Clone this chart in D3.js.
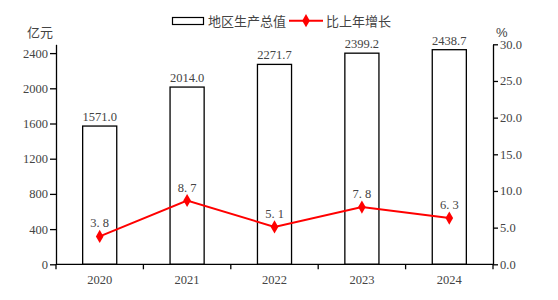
<!DOCTYPE html>
<html>
<head>
<meta charset="utf-8">
<script src="https://cdn.jsdelivr.net/npm/d3@7"></script>
<style>
  body { margin: 0; background: #fff; }
  text { font-family: "Liberation Serif", "Noto Sans CJK SC", serif; fill: #444; }
  .cjk { font-family: "Noto Sans CJK SC", sans-serif; }
</style>
</head>
<body>
<div id="chart"></div>
<script>
// chart data
const years = ["2020", "2021", "2022", "2023", "2024"]
const gdp = [1571.0, 2014.0, 2271.7, 2399.2, 2438.7]
const growth = [3.8, 8.7, 5.1, 7.8, 6.3]
const leftTicks = [0, 400, 800, 1200, 1600, 2000, 2400]
const rightTicks = [0, 5, 10, 15, 20, 25, 30]

const width = 558
const height = 300
const margin = { left: 56, right: 65, top: 44.3, bottom: 35.7 }

const svg = d3.select("#chart")
    .append("svg")
    .attr("width", width)
    .attr("height", height)

const x = d3.scaleBand()
    .domain(years)
    .range([margin.left, width - margin.right])
    .paddingInner(0.61)
    .paddingOuter(0.305)

// band without padding, for the tick marks between years
const xFull = d3.scaleBand()
    .domain(years)
    .range([margin.left, width - margin.right])

const yLeft = d3.scaleLinear()
    .domain([0, 2500])
    .range([height - margin.bottom, margin.top])

const yRight = d3.scaleLinear()
    .domain([0, 30])
    .range([height - margin.bottom, margin.top])

// bars
svg.append("g")
    .selectAll("rect")
    .data(gdp)
    .join("rect")
    .attr("x", (d, i) => x(years[i]))
    .attr("y", d => yLeft(d))
    .attr("width", x.bandwidth())
    .attr("height", d => yLeft(0) - yLeft(d))
    .attr("fill", "#fff")
    .attr("stroke", "#000")
    .attr("stroke-width", 1.3)

// bar labels
svg.append("g")
    .selectAll("text")
    .data(gdp)
    .join("text")
    .attr("x", (d, i) => x(years[i]) + x.bandwidth() / 2)
    .attr("y", d => yLeft(d) - 5)
    .attr("text-anchor", "middle")
    .attr("font-size", 12.5)
    .text(d => d.toFixed(1))

// left axis
const axL = svg.append("g")
    .attr("transform", `translate(${margin.left},0)`)
    .call(d3.axisLeft(yLeft).tickValues(leftTicks).tickSize(6).tickSizeOuter(0).tickPadding(2)
        .tickFormat(d3.format("d")))
axL.select(".domain").attr("stroke", "#000").attr("stroke-width", 1.3)
axL.selectAll("line").attr("stroke", "#000").attr("stroke-width", 1.3)
axL.selectAll("text").attr("font-size", 12.5).attr("fill", "#444")
    .style("font-family", "Liberation Serif")

// right axis
const axR = svg.append("g")
    .attr("transform", `translate(${width - margin.right},0)`)
    .call(d3.axisRight(yRight).tickValues(rightTicks).tickSize(5).tickSizeOuter(0).tickPadding(2)
        .tickFormat(d3.format(".1f")))
axR.select(".domain").attr("stroke", "#000").attr("stroke-width", 1.3)
axR.selectAll("line").attr("stroke", "#000").attr("stroke-width", 1.3)
axR.selectAll("text").attr("font-size", 12.5).attr("fill", "#444")
    .style("font-family", "Liberation Serif")

// bottom axis: baseline, ticks at band edges, labels at centres
const bottomY = height - margin.bottom
svg.append("line")
    .attr("x1", margin.left).attr("x2", width - margin.right)
    .attr("y1", bottomY).attr("y2", bottomY)
    .attr("stroke", "#000").attr("stroke-width", 1.3)
const edges = years.map(d => xFull(d)).concat([width - margin.right])
svg.append("g")
    .selectAll("line")
    .data(edges)
    .join("line")
    .attr("x1", d => d).attr("x2", d => d)
    .attr("y1", bottomY).attr("y2", bottomY + 5)
    .attr("stroke", "#000").attr("stroke-width", 1.3)
svg.append("g")
    .selectAll("text")
    .data(years)
    .join("text")
    .attr("x", d => xFull(d) + xFull.bandwidth() / 2)
    .attr("y", bottomY + 20)
    .attr("text-anchor", "middle")
    .attr("font-size", 12.5)
    .text(d => d)

// growth line
const cx = i => xFull(years[i]) + xFull.bandwidth() / 2
const line = d3.line()
    .x((d, i) => cx(i))
    .y(d => yRight(d))
svg.append("path")
    .datum(growth)
    .attr("d", line)
    .attr("fill", "none")
    .attr("stroke", "#ff0000")
    .attr("stroke-width", 2)

const diamond = d3.symbol().type(d3.symbolDiamond).size(50)
svg.append("g")
    .selectAll("path")
    .data(growth)
    .join("path")
    .attr("d", diamond)
    .attr("transform", (d, i) => `translate(${cx(i)},${yRight(d)})`)
    .attr("fill", "#ff0000")

svg.append("g")
    .selectAll("text")
    .data(growth)
    .join("text")
    .attr("x", (d, i) => cx(i))
    .attr("y", d => yRight(d) - 9)
    .attr("text-anchor", "middle")
    .attr("font-size", 12.5)
    .text(d => d.toFixed(1).replace(".", ". "))

// unit labels
svg.append("text")
    .attr("class", "cjk")
    .attr("x", 27).attr("y", 37)
    .attr("font-size", 13)
    .attr("fill", "#333")
    .text("亿元")
svg.append("text")
    .attr("x", 496).attr("y", 37)
    .attr("font-size", 13)
    .style("font-family", "Liberation Sans")
    .attr("fill", "#333")
    .text("%")

// legend
svg.append("rect")
    .attr("x", 172.5).attr("y", 17.5)
    .attr("width", 31).attr("height", 7)
    .attr("fill", "#fff")
    .attr("stroke", "#000")
    .attr("stroke-width", 1.2)
svg.append("text")
    .attr("class", "cjk")
    .attr("x", 208).attr("y", 25.5)
    .attr("font-size", 13)
    .text("地区生产总值")
svg.append("line")
    .attr("x1", 289).attr("x2", 323)
    .attr("y1", 20.7).attr("y2", 20.7)
    .attr("stroke", "#ff0000")
    .attr("stroke-width", 2)
svg.append("path")
    .attr("d", diamond)
    .attr("transform", "translate(306,20.7)")
    .attr("fill", "#ff0000")
svg.append("text")
    .attr("class", "cjk")
    .attr("x", 326).attr("y", 25.5)
    .attr("font-size", 13)
    .text("比上年增长")
</script>
</body>
</html>
